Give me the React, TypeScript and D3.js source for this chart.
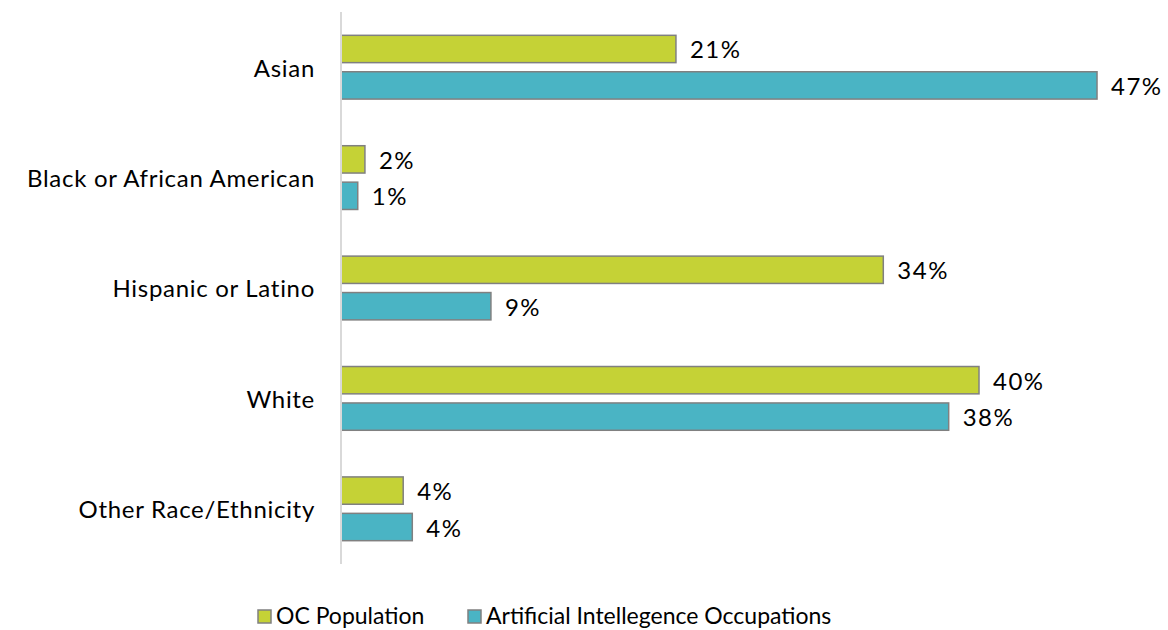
import React, { useEffect } from 'react';
import * as d3 from 'd3';

// categories top to bottom
const categories = ['Asian', 'Black or African American', 'Hispanic or Latino', 'White', 'Other Race/Ethnicity'];
const seriesNames = ['OC Population', 'Artificial Intellegence Occupations'];
// bar lengths (%), labels are rounded
const ocPopulation = [21.0, 1.5, 34.0, 40.0, 3.9];
const aiOccupations = [47.4, 1.05, 9.4, 38.1, 4.47];
const seriesColors = ['#c5d236', '#4ab4c4'];

const W = 1168;
const H = 630;
const margin = { top: 12, right: 20, bottom: 66, left: 341 };
const FONT = 'Lato, "DejaVu Sans", sans-serif';
const FS = 24;

export default function App() {
    useEffect(() => {
        document.body.style.margin = '0';
    }, []);

    const y0 = d3.scaleBand<string>()
        .domain(categories)
        .range([margin.top, H - margin.bottom])
        .padding(0);
    const y1 = d3.scaleBand<string>()
        .domain(seriesNames)
        .range([0, y0.bandwidth()])
        .paddingInner(0.25)
        .paddingOuter(0.64);
    const x = d3.scaleLinear()
        .domain([0, 50])
        .range([margin.left, margin.left + 50 * 15.95]);

    const fmt = (v: number) => `${d3.format('.0f')(v)}%`;
    const seriesValues = [ocPopulation, aiOccupations];

    const legendX = [258, 468];

    return (
        <svg width={W} height={H} style={{ display: 'block', fontFamily: FONT }}>
            <rect width={W} height={H} fill="#ffffff" />
            {categories.map((c, i) => (
                <g key={c} transform={`translate(0,${y0(c)})`}>
                    <text
                        x={margin.left - 26}
                        y={y0.bandwidth() / 2}
                        textAnchor="end"
                        dominantBaseline="central"
                        fontSize={FS}
                        letterSpacing={0.7}
                        fill="#000"
                    >{c}</text>
                    {seriesNames.map((s, j) => {
                        const v = seriesValues[j][i];
                        const by = y1(s) as number;
                        return (
                            <g key={s}>
                                <rect
                                    x={x(0)}
                                    y={by}
                                    width={x(v) - x(0)}
                                    height={y1.bandwidth()}
                                    fill={seriesColors[j]}
                                    stroke="#808080"
                                    strokeWidth={1.5}
                                />
                                <text
                                    x={x(v) + 14}
                                    y={by + y1.bandwidth() / 2}
                                    dominantBaseline="central"
                                    fontSize={FS}
                                    letterSpacing={1.5}
                                    fill="#000"
                                >{fmt(v)}</text>
                            </g>
                        );
                    })}
                </g>
            ))}
            <line
                x1={x(0)} x2={x(0)}
                y1={margin.top} y2={H - margin.bottom}
                stroke="#d9d9d9"
                strokeWidth={2}
            />
            {seriesNames.map((s, j) => (
                <g key={s} transform={`translate(${legendX[j]},${H - 15})`}>
                    <rect x={0} y={-5} width={13} height={13} fill={seriesColors[j]} stroke="#808080" strokeWidth={1.5} />
                    <text x={18} y={0} dominantBaseline="central" fontSize={23} fill="#000">{s}</text>
                </g>
            ))}
        </svg>
    );
}
